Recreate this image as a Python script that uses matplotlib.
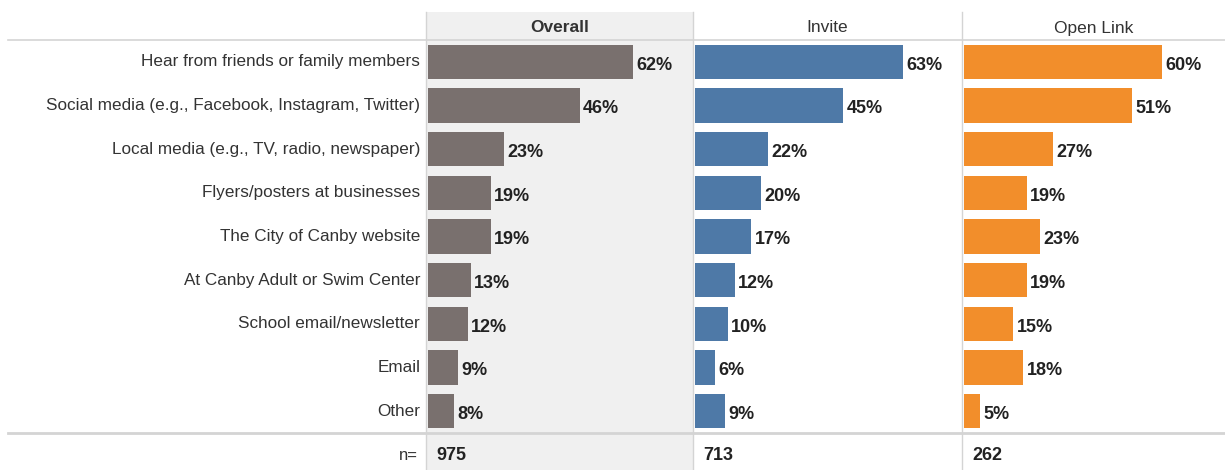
import matplotlib.pyplot as plt
from matplotlib.patches import Rectangle

categories = ['Hear from friends or family members',
              'Social media (e.g., Facebook, Instagram, Twitter)',
              'Local media (e.g., TV, radio, newspaper)',
              'Flyers/posters at businesses',
              'The City of Canby website',
              'At Canby Adult or Swim Center',
              'School email/newsletter',
              'Email',
              'Other']
overall = [62, 46, 23, 19, 19, 13, 12, 9, 8]
invite = [63, 45, 22, 20, 17, 12, 10, 6, 9]
open_link = [60, 51, 27, 19, 23, 19, 15, 18, 5]
groups = ['Overall', 'Invite', 'Open Link']
n_values = [975, 713, 262]
colors = ['#79706e', '#4e79a7', '#f28e2b']

W, H = 1225, 470
plt.rcParams['font.family'] = ['Liberation Sans', 'DejaVu Sans']
fig = plt.figure(figsize=(W / 100, H / 100), dpi=100)

# panel edges in pixels
edges = [426, 693, 962, 1225]
top_px, bot_px, head_px = 40, 433, 12
px_per_pct = 3.3
grid = '#d4d4d4'
txt = '#333333'

def fx(p):
    return p / W

def fy(p):
    return 1 - p / H

# gray background for Overall column (header to bottom)
fig.patches.append(Rectangle((fx(edges[0]), 0), fx(edges[1] - edges[0]), fy(head_px),
                             transform=fig.transFigure, facecolor='#f0f0f0',
                             edgecolor='none', zorder=-5))

series = [overall, invite, open_link]
for i, vals in enumerate(series):
    x0, x1 = edges[i], edges[i + 1]
    ax = fig.add_axes([fx(x0), fy(bot_px), fx(x1 - x0), fy(top_px) - fy(bot_px)])
    ax.patch.set_alpha(0)
    ypos = list(range(len(categories)))
    ax.barh(ypos, vals, height=0.78, color=colors[i], left=0.6)
    for y, v in zip(ypos, vals):
        ax.text(v + 1.6, y + 0.08, f'{v}%', va='center', ha='left',
                fontsize=13, fontweight='bold', color='#222222')
    ax.set_xlim(0, (x1 - x0) / px_per_pct)
    ax.set_ylim(len(categories) - 0.5, -0.5)
    ax.set_xticks([])
    ax.set_yticks([])
    for s in ax.spines.values():
        s.set_visible(False)
    if i == 0:
        for y, c in enumerate(categories):
            ax.text(-0.022, y, c, transform=ax.get_yaxis_transform(), ha='right',
                    va='center', fontsize=12.3, color=txt)
    # header
    fig.text(fx((x0 + x1) / 2), fy(28), groups[i], ha='center', va='center',
             fontsize=12.5, color=txt, fontweight='bold' if i == 0 else 'normal')
    # n value
    fig.text(fx(x0 + 10), fy(456), str(n_values[i]), ha='left', va='center',
             fontsize=13, fontweight='bold', color='#222222')

fig.text(fx(418), fy(456), 'n=', ha='right', va='center', fontsize=12, color=txt)

# vertical separators
for e in edges[:3]:
    fig.add_artist(plt.Line2D([fx(e), fx(e)], [0, fy(head_px)], color=grid, lw=1))
# horizontal rules
fig.add_artist(plt.Line2D([fx(8), 1], [fy(top_px), fy(top_px)], color=grid, lw=1.2))
fig.add_artist(plt.Line2D([fx(8), 1], [fy(bot_px), fy(bot_px)], color=grid, lw=2))

fig.savefig('out.png', dpi=100)
